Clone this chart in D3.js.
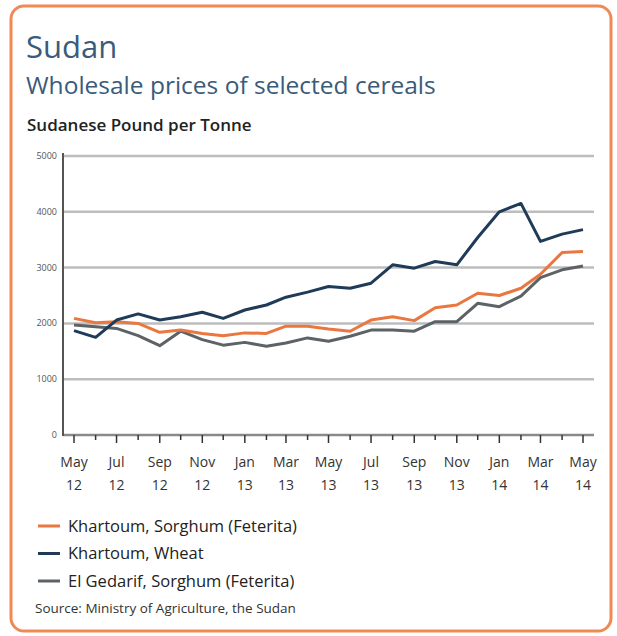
<!DOCTYPE html>
<html>
<head>
<meta charset="utf-8">
<script src="https://cdn.jsdelivr.net/npm/d3@7"></script>
<style>
  html, body { margin: 0; padding: 0; background: #fff; }
  svg { display: block; font-family: "Open Sans", "Noto Sans", sans-serif; }
</style>
</head>
<body>
<svg id="chart" width="617" height="636"></svg>
<script>
"use strict";

// Months: May 2012 .. May 2014
const months = d3.timeMonth.range(new Date(2012, 4, 1), new Date(2014, 5, 1));

// Series values (Sudanese Pound per Tonne)
const sorghumKhartoum = [2090, 2010, 2030, 2000, 1840, 1880, 1820, 1780, 1830, 1820, 1950, 1950, 1900,
  1860, 2060, 2120, 2050, 2280, 2330, 2540, 2500, 2630, 2880, 3270, 3290];
const wheatKhartoum = [1870, 1750, 2060, 2170, 2060, 2120, 2200, 2090, 2240, 2330, 2470, 2560, 2660,
  2630, 2720, 3050, 2990, 3110, 3050, 3540, 4000, 4150, 3470, 3600, 3680];
const sorghumGedarif = [1970, 1940, 1910, 1780, 1600, 1860, 1710, 1610, 1660, 1590, 1650, 1740, 1680,
  1770, 1880, 1880, 1860, 2030, 2030, 2360, 2300, 2490, 2820, 2960, 3030];

const seriesNames = ["Khartoum, Sorghum (Feterita)", "Khartoum, Wheat", "El Gedarif, Sorghum (Feterita)"];
const seriesColors = ["#e9773f", "#1f3b58", "#5d6266"];
const yTicks = [0, 1000, 2000, 3000, 4000, 5000];
const xMonthLabels = ["May", "Jul", "Sep", "Nov", "Jan", "Mar", "May", "Jul", "Sep", "Nov", "Jan", "Mar", "May"];
const xYearLabels = ["12", "12", "12", "12", "13", "13", "13", "13", "13", "13", "14", "14", "14"];

const series = [sorghumKhartoum, wheatKhartoum, sorghumGedarif];

const svg = d3.select("#chart");

// Frame
svg.append("rect")
  .attr("x", 11).attr("y", 6)
  .attr("width", 600).attr("height", 625)
  .attr("rx", 13).attr("ry", 13)
  .attr("fill", "#fff")
  .attr("stroke", "#ef8a55")
  .attr("stroke-width", 3);

// Titles
svg.append("text")
  .attr("x", 26).attr("y", 58)
  .attr("font-size", 31)
  .attr("fill", "#3a5b7a")
  .text("Sudan");

svg.append("text")
  .attr("x", 26).attr("y", 94)
  .attr("font-size", 24.5)
  .attr("fill", "#3a5b7a")
  .text("Wholesale prices of selected cereals");

svg.append("text")
  .attr("x", 27).attr("y", 131)
  .attr("font-size", 17)
  .attr("font-weight", 600)
  .attr("fill", "#222")
  .text("Sudanese Pound per Tonne");

// Scales
const x = d3.scaleTime()
  .domain([months[0], months[months.length - 1]])
  .range([74, 583]);

const y = d3.scaleLinear()
  .domain([0, 5000])
  .range([435, 156]);

// Gridlines
svg.append("g")
  .selectAll("line")
  .data(yTicks.filter(d => d > 0))
  .join("line")
  .attr("x1", 63).attr("x2", 594)
  .attr("y1", d => y(d)).attr("y2", d => y(d))
  .attr("stroke", "#bdbdbd")
  .attr("stroke-width", 2.5);

// Y axis labels
svg.append("g")
  .selectAll("text")
  .data(yTicks)
  .join("text")
  .attr("x", 57)
  .attr("y", d => y(d) + 3)
  .attr("text-anchor", "end")
  .attr("font-size", 9)
  .attr("fill", "#555")
  .text(d => d);

// X axis (baseline + ticks)
svg.append("line")
  .attr("x1", 63).attr("x2", 594)
  .attr("y1", y(0)).attr("y2", y(0))
  .attr("stroke", "#8a8a8a")
  .attr("stroke-width", 2.5);

svg.append("g")
  .selectAll("line")
  .data(months)
  .join("line")
  .attr("x1", d => x(d)).attr("x2", d => x(d))
  .attr("y1", y(0))
  .attr("y2", (d, i) => y(0) + (i % 2 === 0 ? 8 : 5))
  .attr("stroke", "#333")
  .attr("stroke-width", 1.5);

// Y axis line
svg.append("line")
  .attr("x1", 63).attr("x2", 63)
  .attr("y1", 153).attr("y2", y(0) + 1)
  .attr("stroke", "#555")
  .attr("stroke-width", 2);

// X labels
const majorMonths = months.filter((d, i) => i % 2 === 0);
const xl = svg.append("g")
  .selectAll("text")
  .data(majorMonths)
  .join("text")
  .attr("text-anchor", "middle")
  .attr("font-size", 14)
  .attr("fill", "#333");
xl.append("tspan")
  .attr("x", d => x(d)).attr("y", 467)
  .text((d, i) => xMonthLabels[i]);
xl.append("tspan")
  .attr("x", d => x(d)).attr("y", 490)
  .text((d, i) => xYearLabels[i]);

// Lines
const line = d3.line()
  .x((d, i) => x(months[i]))
  .y(d => y(d));

svg.append("g")
  .selectAll("path")
  .data([2, 0, 1])
  .join("path")
  .attr("d", k => line(series[k]))
  .attr("fill", "none")
  .attr("stroke", k => seriesColors[k])
  .attr("stroke-width", 3)
  .attr("stroke-linejoin", "round");

// Legend
const legend = svg.append("g")
  .selectAll("g")
  .data(seriesNames)
  .join("g")
  .attr("transform", (d, i) => `translate(38,${526 + i * 27.5})`);
legend.append("line")
  .attr("x1", 0).attr("x2", 22)
  .attr("stroke", (d, i) => seriesColors[i])
  .attr("stroke-width", 3);
legend.append("text")
  .attr("x", 30).attr("y", 5.5)
  .attr("font-size", 16.5)
  .attr("fill", "#222")
  .text(d => d);

// Source
svg.append("text")
  .attr("x", 35).attr("y", 613)
  .attr("font-size", 13.5)
  .attr("fill", "#333")
  .text("Source: Ministry of Agriculture, the Sudan");
</script>
</body>
</html>
